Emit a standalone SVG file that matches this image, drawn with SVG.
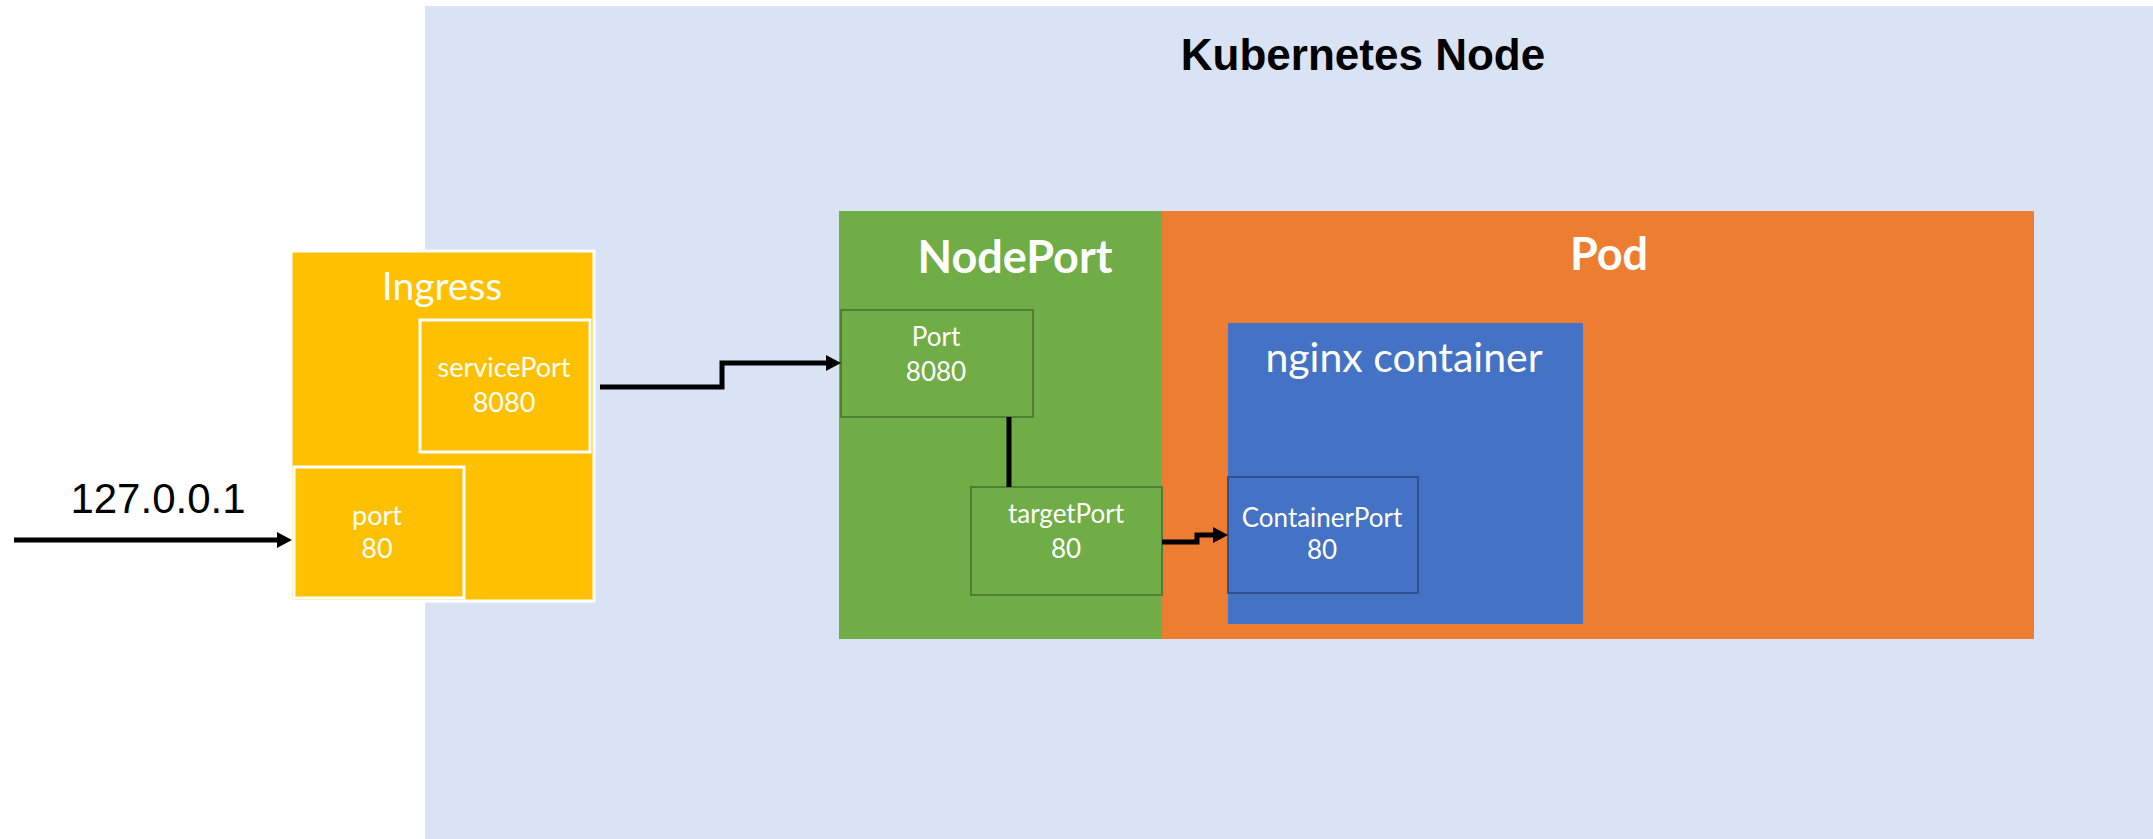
<svg xmlns="http://www.w3.org/2000/svg" width="2153" height="839" viewBox="0 0 2153 839">
  <defs>
    <style>
      .lbl { font-family: Lato, "Open Sans", sans-serif; fill: #FFFFFF; text-anchor: middle; }
      .title { font-family: Lato, "Open Sans", sans-serif; font-weight: bold; fill: #FFFFFF; text-anchor: middle; }
      .conn { fill: none; stroke: #000000; stroke-width: 5; }
      .ing { fill: #FFC000; stroke: #FFFFFF; stroke-width: 3; }
      .gbox { fill: #70AD47; stroke: #507E32; stroke-width: 2; }
      .bbox { fill: #4472C4; stroke: #2F528F; stroke-width: 2; }
    </style>
    <marker id="ah" markerUnits="userSpaceOnUse" markerWidth="16" markerHeight="18" refX="0" refY="8" orient="auto">
      <path d="M0,0 L15,8 L0,16 Z" fill="#000000"/>
    </marker>
  </defs>

  <rect width="2153" height="839" fill="#FFFFFF"/>

  <g id="kubernetes-node">
    <rect x="425" y="6" width="1728" height="833" fill="#DAE3F3"/>
    <text x="1363" y="70" font-family="'Liberation Sans', Arial, sans-serif" font-weight="bold" font-size="44" fill="#000000" text-anchor="middle">Kubernetes Node</text>
  </g>

  <g id="ingress">
    <rect class="ing" x="291" y="251" width="303" height="350"/>
    <text class="lbl" x="442" y="300" font-size="39">Ingress</text>
  </g>
  <g id="servicePort">
    <rect class="ing" x="420" y="320" width="170" height="132"/>
    <text class="lbl" x="504" y="377" font-size="27">servicePort</text>
    <text class="lbl" x="504" y="412" font-size="27">8080</text>
  </g>
  <g id="port">
    <rect class="ing" x="294" y="467" width="170" height="131"/>
    <text class="lbl" x="377" y="525" font-size="27">port</text>
    <text class="lbl" x="377" y="558" font-size="27">80</text>
  </g>

  <g id="nodeport">
    <rect x="839" y="211" width="323" height="428" fill="#70AD47"/>
    <text class="title" x="1015" y="273" font-size="45">NodePort</text>
  </g>
  <g id="pod">
    <rect x="1162" y="211" width="872" height="428" fill="#ED7D31"/>
    <text class="title" x="1609" y="270" font-size="45">Pod</text>
  </g>
  <g id="nginx-container">
    <rect x="1228" y="323" width="355" height="301" fill="#4472C4"/>
    <text class="lbl" x="1404" y="372" font-size="41">nginx container</text>
  </g>
  <g id="port-8080">
    <rect class="gbox" x="841" y="310" width="192" height="107"/>
    <text class="lbl" x="936" y="346" font-size="26">Port</text>
    <text class="lbl" x="936" y="381" font-size="26">8080</text>
  </g>
  <g id="targetPort">
    <rect class="gbox" x="971" y="487" width="191" height="108"/>
    <text class="lbl" x="1066" y="523" font-size="26">targetPort</text>
    <text class="lbl" x="1066" y="558" font-size="26">80</text>
  </g>
  <g id="containerPort">
    <rect class="bbox" x="1228" y="477" width="190" height="116"/>
    <text class="lbl" x="1322" y="527" font-size="26">ContainerPort</text>
    <text class="lbl" x="1322" y="559" font-size="26">80</text>
  </g>

  <g id="connectors">
    <path class="conn" d="M14,540 H277" marker-end="url(#ah)"/>
    <path class="conn" d="M600,387 H722 V363 H826" marker-end="url(#ah)"/>
    <path class="conn" d="M1009,417 V487"/>
    <path class="conn" d="M1162,542 H1197 V535 H1213" marker-end="url(#ah)"/>
  </g>

  <text x="158" y="513" font-family="'Liberation Sans', Arial, sans-serif" font-size="42" fill="#000000" text-anchor="middle">127.0.0.1</text>
</svg>
